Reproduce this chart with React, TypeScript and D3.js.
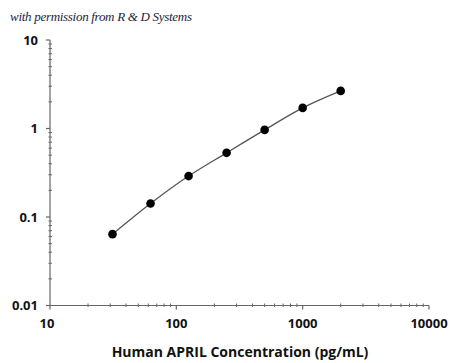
import React from "react";
import * as d3 from "d3";

const concentrations = [31.25, 62.5, 125, 250, 500, 1000, 2000];
const odValues = [0.064, 0.142, 0.29, 0.531, 0.964, 1.71, 2.66];
const xTickValues = [10, 100, 1000, 10000];
const xTickLabels = ["10", "100", "1000", "10000"];
const yTickValues = [0.01, 0.1, 1, 10];
const yTickLabels = ["0.01", "0.1", "1", "10"];
const xLabel = "Human APRIL Concentration (pg/mL)";
const credit = "with permission from R & D Systems";

export default function App() {
  const W = 450, H = 363;
  const x = d3.scaleLog().domain([10, 10000]).range([50, 429]);
  const y = d3.scaleLog().domain([0.01, 10]).range([305.5, 40]);
  const axisColor = "#666";

  const minorX: number[] = [];
  for (let d = 10; d < 10000; d *= 10) for (let k = 2; k <= 9; k++) minorX.push(d * k);
  const minorY: number[] = [];
  for (let d = 0.01; d < 9; d *= 10) for (let k = 2; k <= 9; k++) minorY.push(d * k);

  const pts = concentrations.map((c, i) => [x(c), y(odValues[i])] as [number, number]);
  const line = d3.line().curve(d3.curveCatmullRom.alpha(0.5))(pts) || "";
  const font = "'Open Sans', 'DejaVu Sans', sans-serif";

  return (
    <svg width={W} height={H} style={{ position: "absolute", left: 0, top: 0, background: "#fff" }}>
      <text x={10} y={21} fontFamily="'Liberation Serif', 'DejaVu Serif', serif" fontStyle="italic" fontSize={13} fill="#1c2340" textLength={182}>
        {credit}
      </text>
      {/* axes */}
      <line x1={x(10)} x2={x(10000)} y1={y(0.01)} y2={y(0.01)} stroke={axisColor} strokeWidth={1.2} />
      <line x1={x(10)} x2={x(10)} y1={y(0.01)} y2={y(10)} stroke={axisColor} strokeWidth={1.2} />
      {minorX.map((v, i) => (
        <line key={"mx" + i} x1={x(v)} x2={x(v)} y1={y(0.01) - 2} y2={y(0.01) + 1.5} stroke={axisColor} strokeWidth={1} />
      ))}
      {xTickValues.map((v, i) => (
        <g key={"xt" + i}>
          <line x1={x(v)} x2={x(v)} y1={y(0.01)} y2={y(0.01) + 4} stroke={axisColor} strokeWidth={1.2} />
          <text x={x(v) - (i === 0 ? 3 : 0)} y={328} textAnchor="middle" fontFamily={font} fontWeight={700} fontSize={13} fill="#111">
            {xTickLabels[i]}
          </text>
        </g>
      ))}
      {minorY.map((v, i) => (
        <line key={"my" + i} x1={x(10) - 1.5} x2={x(10) + 2} y1={y(v)} y2={y(v)} stroke={axisColor} strokeWidth={1} />
      ))}
      {yTickValues.map((v, i) => (
        <g key={"yt" + i}>
          <line x1={x(10) - 4} x2={x(10)} y1={y(v)} y2={y(v)} stroke={axisColor} strokeWidth={1.2} />
          <text x={38} y={y(v)} dy="0.35em" textAnchor="end" fontFamily={font} fontWeight={700} fontSize={13} fill="#111">
            {yTickLabels[i]}
          </text>
        </g>
      ))}
      <text x={240} y={357} textAnchor="middle" fontFamily={font} fontWeight={700} fontSize={14} fill="#111">
        {xLabel}
      </text>
      <path d={line} fill="none" stroke="#555" strokeWidth={1.3} />
      {pts.map((p, i) => (
        <circle key={"p" + i} cx={p[0]} cy={p[1]} r={4.3} fill="#000" />
      ))}
    </svg>
  );
}
